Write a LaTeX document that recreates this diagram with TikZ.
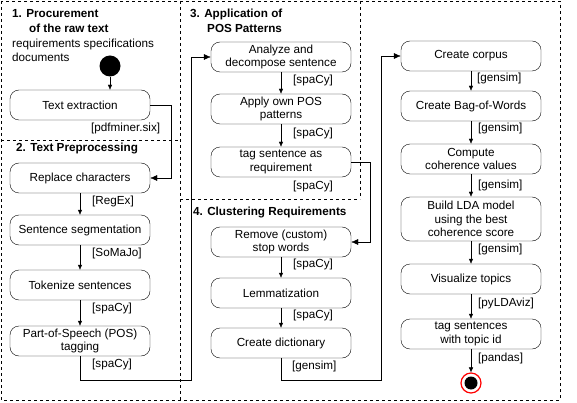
\documentclass[tikz,border=0pt]{standalone}
\usepackage{fontspec}
\setmainfont{Liberation Sans}
\usetikzlibrary{arrows.meta}

\begin{document}
\begin{tikzpicture}[
        x=1pt, y=-1pt,
        act/.style={
            draw,
            rounded corners=9pt,
            minimum width=140pt,
            minimum height=30pt,
            inner sep=1pt,
            align=center
        },
        tool/.style={anchor=west, inner sep=0pt},
        title/.style={
            anchor=west,
            inner sep=0pt,
            font=\fontsize{11.7}{13.5}\selectfont\bfseries
        },
        part/.style={dash pattern=on 3pt off 3pt},
        flow/.style={-{Latex[length=5pt,width=4.5pt]}},
        link/.style={-{Latex[length=7pt,width=6pt]}},
        every node/.style={font=\fontsize{11.7}{13.5}\selectfont}
    ]

    \useasboundingbox (0,0) rectangle (577,403);

    \draw[part] (1,1) rectangle (560,400);
    \draw[part] (180,1) -- (180,400);
    \draw[part] (1,140) -- (180,140);
    \draw[part] (180,199) -- (360,199);
    \draw[part] (360,1) -- (360,199);

    \node[title] (t1a) at (12,14) {1. Procurement};
    \node[title] (t1b) at (29,28) {of the raw text};
    \node[tool] (docs1) at (12,44) {requirements specifications};
    \node[tool] (docs2) at (12,57) {documents};
    \node[title] (t2) at (16,149) {2. Text Preprocessing};
    \node[title] (t3a) at (190,14) {3. Application of};
    \node[title] (t3b) at (207,28) {POS Patterns};
    \node[title] (t4) at (193,213) {4. Clustering Requirements};

    \node[circle, fill=black, minimum size=21pt, inner sep=0pt] (start) at (110,66) {};

    \node[act] (extract) at (80,105) {Text extraction};
    \node[act] (replace) at (80,178) {Replace characters};
    \node[act] (segment) at (80,230) {Sentence segmentation};
    \node[act] (tokens) at (80,285) {Tokenize sentences};
    \node[act] (pos) at (80,341) {Part-of-Speech (POS)\\tagging};

    \node[act] (analyze) at (281,57) {Analyze and\\decompose sentence};
    \node[act] (patterns) at (281,109) {Apply own POS\\patterns};
    \node[act] (tagreq) at (281,162) {tag sentence as\\requirement};
    \node[act] (stopw) at (281,242) {Remove (custom)\\stop words};
    \node[act] (lemma) at (281,293) {Lemmatization};
    \node[act] (dict) at (281,343) {Create dictionary};

    \node[act] (corpus) at (471,56) {Create corpus};
    \node[act] (bow) at (471,106) {Create Bag-of-Words};
    \node[act] (coher) at (471,159) {Compute\\coherence values};
    \node[act, minimum height=44pt] (lda) at (471,219) {Build LDA model\\using the best\\coherence score};
    \node[act] (vis) at (471,279) {Visualize topics};
    \node[act] (tagtop) at (471,334) {tag sentences\\with topic id};

    \node[circle, draw=red, line width=1.2pt, fill=white, minimum size=20pt, inner sep=0pt] (stop) at (471,383) {};
    \node[circle, fill=black, minimum size=13pt, inner sep=0pt] (stopdot) at (stop) {};

    \node[tool] (lt1) at (91,128) {[pdfminer.six]};
    \node[tool] (lt2) at (92,201) {[RegEx]};
    \node[tool] (lt3) at (92,253) {[SoMaJo]};
    \node[tool] (lt4) at (92,308) {[spaCy]};
    \node[tool] (lt5) at (92,364) {[spaCy]};

    \node[tool] (lt6) at (293,80) {[spaCy]};
    \node[tool] (lt7) at (293,133) {[spaCy]};
    \node[tool] (lt8) at (293,186) {[spaCy]};
    \node[tool] (lt9) at (293,264) {[spaCy]};
    \node[tool] (lt10) at (293,315) {[spaCy]};
    \node[tool] (lt11) at (292,366) {[gensim]};

    \node[tool] (lt12) at (477,78) {[gensim]};
    \node[tool] (lt13) at (478,128) {[gensim]};
    \node[tool] (lt14) at (478,185) {[gensim]};
    \node[tool] (lt15) at (478,249) {[gensim]};
    \node[tool] (lt16) at (478,303) {[pyLDAviz]};
    \node[tool] (lt17) at (478,358) {[pandas]};

    \coordinate (bendA) at (191,380);
    \coordinate (bendB) at (381,380);

    \draw[flow] (start) -- (start |- extract.north);
    \draw[link] (extract.east) -- ++(21,0) |- (replace.east);
    \draw[flow] (replace) -- (segment);
    \draw[flow] (segment) -- (tokens);
    \draw[flow] (tokens) -- (pos);
    \draw[link] (pos.south) |- (bendA) |- (analyze.west);

    \draw[flow] (analyze) -- (patterns);
    \draw[flow] (patterns) -- (tagreq);
    \draw[link] (tagreq.east) -- ++(19,0) |- (stopw.east);
    \draw[flow] (stopw) -- (lemma);
    \draw[flow] (lemma) -- (dict);
    \draw[link] (dict.south) |- (bendB) |- (corpus.west);

    \draw[flow] (corpus) -- (bow);
    \draw[flow] (bow) -- (coher);
    \draw[flow] (coher) -- (lda);
    \draw[flow] (lda) -- (vis);
    \draw[flow] (vis) -- (tagtop);
    \draw[flow] (tagtop) -- (stop);

\end{tikzpicture}
\end{document}
